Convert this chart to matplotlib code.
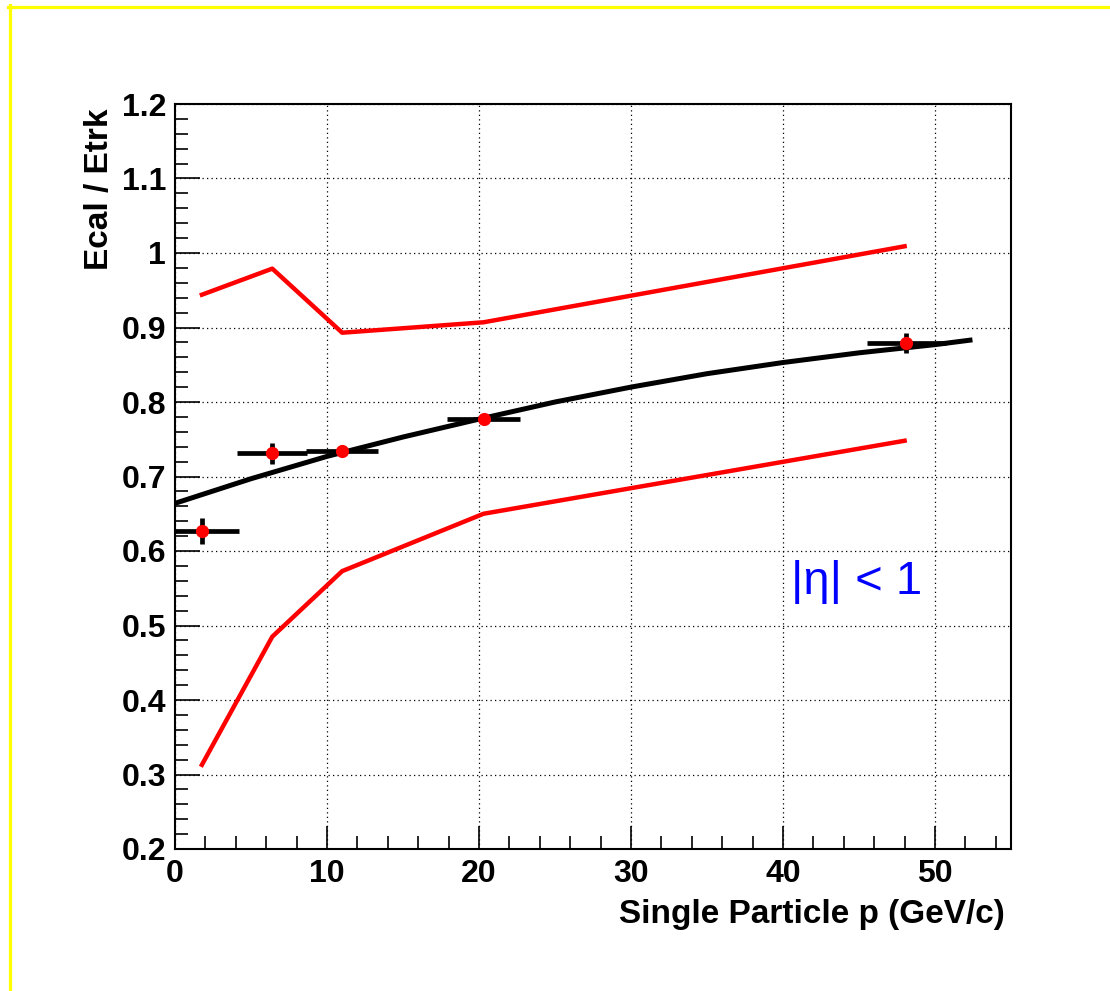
import matplotlib
matplotlib.use("Agg")
import matplotlib.pyplot as plt
from matplotlib.lines import Line2D
from matplotlib.ticker import MultipleLocator, FixedFormatter, FixedLocator

plt.rcParams['font.family'] = ['Liberation Sans', 'DejaVu Sans']
plt.rcParams['font.weight'] = 'bold'

# ---- data ----
p_points = [1.77, 6.36, 11.0, 20.3, 48.1]
ratio_points = [0.627, 0.731, 0.734, 0.777, 0.879]
p_err = [2.45, 2.3, 2.35, 2.4, 2.6]
ratio_err = [0.017, 0.014, 0.006, 0.005, 0.013]

band_p = [1.77, 6.4, 11.0, 20.3, 48.0]
band_upper = [0.944, 0.979, 0.893, 0.907, 1.009]
band_lower = [0.313, 0.485, 0.573, 0.650, 0.748]

fit_p = [0, 5, 10, 15, 20, 25, 30, 35, 40, 45, 50, 52.3]
fit_ratio = [0.664, 0.697, 0.727, 0.753, 0.777, 0.800, 0.820, 0.838, 0.853, 0.866, 0.877, 0.883]

y_ticks = [0.2, 0.3, 0.4, 0.5, 0.6, 0.7, 0.8, 0.9, 1.0, 1.1, 1.2]
y_tick_labels = ["0.2", "0.3", "0.4", "0.5", "0.6", "0.7", "0.8", "0.9", "1", "1.1", "1.2"]
x_ticks = [0, 10, 20, 30, 40, 50]
x_tick_labels = ["0", "10", "20", "30", "40", "50"]

x_label = "Single Particle p (GeV/c)"
y_label = "Ecal / Etrk"
annotation = "|\u03b7| < 1"

# ---- figure ----
W, H = 1110, 991
fig = plt.figure(figsize=(W / 100, H / 100), dpi=100)
fig.patch.set_facecolor('white')

def fx(px):
    return px / W

def fy(py):
    return 1 - py / H

ax = fig.add_axes([fx(175), fy(849), fx(1011) - fx(175), fy(104) - fy(849)])
ax.set_xlim(0, 55)
ax.set_ylim(0.2, 1.2)

# grid
ax.grid(True, which='major', color='black', linestyle=(0, (1, 2.6)), linewidth=0.9)
ax.set_axisbelow(True)

# bands
ax.plot(band_p, band_upper, color='#ff0000', lw=3.2, zorder=3)
ax.plot(band_p, band_lower, color='#ff0000', lw=3.2, zorder=3)

# error bars
ax.errorbar(p_points, ratio_points, xerr=p_err, yerr=ratio_err, fmt='none',
            ecolor='black', elinewidth=3.4, capsize=0, zorder=4)
# fit line
ax.plot(fit_p, fit_ratio, color='black', lw=3.6, zorder=5)
# markers
ax.plot(p_points, ratio_points, 'o', color='#ff0000', markersize=9.5, zorder=6,
        markeredgewidth=0)

# annotation
ax.text(40.5, 0.558, annotation, color='#0000ff', fontsize=34, fontweight='normal',
        ha='left', va='center', zorder=7)

# ticks
ax.xaxis.set_major_locator(FixedLocator(x_ticks))
ax.xaxis.set_major_formatter(FixedFormatter(x_tick_labels))
ax.yaxis.set_major_locator(FixedLocator(y_ticks))
ax.yaxis.set_major_formatter(FixedFormatter(y_tick_labels))
ax.xaxis.set_minor_locator(MultipleLocator(2))
ax.yaxis.set_minor_locator(MultipleLocator(0.02))
ax.tick_params(which='both', direction='in', top=False, right=False, width=1.2, color='black')
ax.tick_params(axis='y', which='major', length=18, pad=6.5, labelsize=23)
ax.tick_params(axis='y', which='minor', length=9.4)
ax.tick_params(axis='x', which='major', length=16.3, pad=7, labelsize=23)
ax.tick_params(axis='x', which='minor', length=9.1)
for lab in ax.get_xticklabels() + ax.get_yticklabels():
    lab.set_fontweight('bold')

for s in ax.spines.values():
    s.set_linewidth(1.5)
    s.set_color('black')

# labels
fig.text(fx(1005), fy(923), x_label, ha='right', va='baseline', fontsize=24, fontweight='bold')
fig.text(fx(108), fy(108), y_label, rotation=90, rotation_mode='anchor',
         ha='right', va='baseline', fontsize=24, fontweight='bold')

# yellow frame (top and left edges)
fig.add_artist(Line2D([fx(8), 1.0], [fy(6.5), fy(6.5)], color='#ffff00', lw=2.3,
                      transform=fig.transFigure))
fig.add_artist(Line2D([fx(9.5), fx(9.5)], [fy(5), 0.0], color='#ffff00', lw=2.3,
                      transform=fig.transFigure))

fig.savefig('out.png', dpi=100, facecolor='white')
